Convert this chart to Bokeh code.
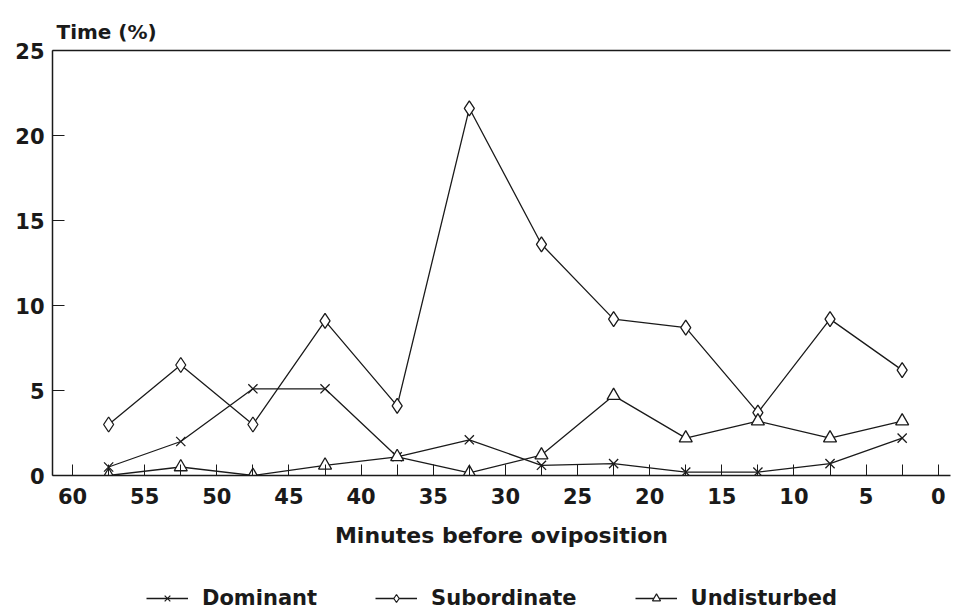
from bokeh.plotting import figure
from bokeh.layouts import column
from bokeh.models import (Range1d, FixedTicker, LinearAxis, Legend, LegendItem,
                          ColumnDataSource)
from bokeh.embed import file_html
from bokeh.resources import INLINE

minutes = [57.5, 52.5, 47.5, 42.5, 37.5, 32.5, 27.5, 22.5, 17.5, 12.5, 7.5, 2.5]
dominant = [0.5, 2.0, 5.1, 5.1, 1.1, 2.1, 0.6, 0.7, 0.2, 0.2, 0.7, 2.2]
subordinate = [3.0, 6.5, 3.0, 9.1, 4.1, 21.6, 13.6, 9.2, 8.7, 3.7, 9.2, 6.2]
undisturbed = [0.0, 0.5, 0.0, 0.6, 1.1, 0.15, 1.2, 4.7, 2.2, 3.2, 2.2, 3.2]
series_names = ["Dominant", "Subordinate", "Undisturbed"]
series_markers = ["x", "diamond", "triangle"]
x_ticks = [60, 55, 50, 45, 40, 35, 30, 25, 20, 15, 10, 5, 0]
x_minor = [57.5, 52.5, 47.5, 42.5, 37.5, 32.5, 27.5, 22.5, 17.5, 12.5, 7.5, 2.5]
y_ticks = [0, 5, 10, 15, 20, 25]

FONT = "DejaVu Sans"
INK = "#1a1a1a"
MSIZE = {"x": 13, "diamond": 15, "triangle": 13}

p = figure(width=953, height=560, output_backend="svg", toolbar_location=None,
           x_range=Range1d(61.39, -0.85), y_range=Range1d(0, 25),
           min_border_left=52, min_border_right=3, min_border_top=50,
           min_border_bottom=85, title="Time (%)")
p.outline_line_color = None
p.grid.grid_line_color = None
p.background_fill_color = "white"

p.title.text_font = FONT
p.title.text_font_size = "20px"
p.title.text_font_style = "bold"
p.title.text_color = INK
p.title.align = "left"
p.title.offset = 4
p.title.standoff = 13

src = ColumnDataSource(dict(x=minutes, d=dominant, s=subordinate, u=undisturbed))
for col, mk in zip(["d", "s", "u"], series_markers):
    p.line("x", col, source=src, line_color=INK, line_width=1.3)
    p.scatter("x", col, source=src, marker=mk, size=MSIZE[mk], line_color=INK,
              fill_color="white", line_width=1.3)

xa = p.xaxis[0]
xa.ticker = FixedTicker(ticks=x_ticks, minor_ticks=x_minor)
xa.major_tick_in = 11
xa.major_tick_out = 0
xa.minor_tick_in = 11
xa.minor_tick_out = 0
xa.axis_line_width = 1.5
xa.axis_line_color = INK
xa.major_tick_line_color = INK
xa.minor_tick_line_color = INK
xa.major_label_text_font = FONT
xa.major_label_text_font_size = "21px"
xa.major_label_text_font_style = "bold"
xa.major_label_text_color = INK
xa.major_label_standoff = 12
xa.axis_label = "Minutes before oviposition"
xa.axis_label_text_font = FONT
xa.axis_label_text_font_size = "22px"
xa.axis_label_text_font_style = "bold"
xa.axis_label_text_color = INK
xa.axis_label_standoff = 16

ya = p.yaxis[0]
ya.ticker = FixedTicker(ticks=y_ticks)
ya.major_tick_in = 12
ya.major_tick_out = 0
ya.minor_tick_line_color = None
ya.axis_line_width = 1.5
ya.axis_line_color = INK
ya.major_tick_line_color = INK
ya.major_label_text_font = FONT
ya.major_label_text_font_size = "21px"
ya.major_label_text_font_style = "bold"
ya.major_label_text_color = INK
ya.major_label_standoff = 8

top = LinearAxis(ticker=FixedTicker(ticks=[]), major_label_text_font_size="0px",
                 axis_line_width=1.5, axis_line_color=INK,
                 major_tick_line_color=None, minor_tick_line_color=None)
p.add_layout(top, "above")

# legend strip below the chart
lg = figure(width=953, height=53, output_backend="svg", toolbar_location=None,
            x_range=Range1d(0, 10), y_range=Range1d(0, 10),
            min_border_left=0, min_border_right=0, min_border_top=0,
            min_border_bottom=0)
lg.axis.visible = False
lg.grid.grid_line_color = None
lg.outline_line_color = None
items = []
for name, mk in zip(series_names, series_markers):
    dummy = ColumnDataSource(dict(x=[-50, -40], y=[-50, -40]))
    rl = lg.line("x", "y", source=dummy, line_color=INK, line_width=1.3)
    rm = lg.scatter("x", "y", source=dummy, marker=mk, size=MSIZE[mk] * 0.8,
                    line_color=INK, fill_color="white", line_width=1.2)
    items.append(LegendItem(label=name, renderers=[rl, rm]))
legend = Legend(items=items, orientation="horizontal", location=(94, 3))
legend.label_text_font = FONT
legend.label_text_font_size = "21px"
legend.label_text_font_style = "bold"
legend.label_text_color = INK
legend.label_standoff = 14
legend.glyph_width = 42
legend.spacing = 58
legend.border_line_color = None
legend.background_fill_alpha = 0
legend.margin = 0
legend.padding = 0
lg.add_layout(legend, "center")

layout = column(p, lg, spacing=0)
open("out.html", "w").write(file_html(layout, INLINE))
